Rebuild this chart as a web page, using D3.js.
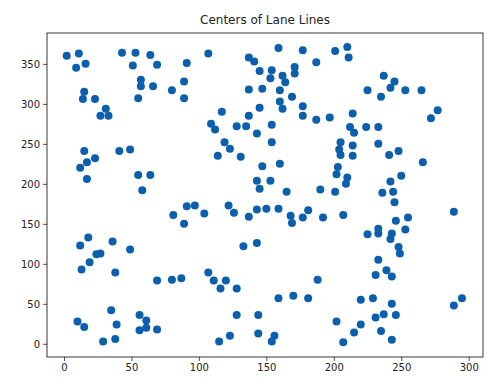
<!DOCTYPE html>
<html>
<head>
<meta charset="utf-8">
<script src="https://cdn.jsdelivr.net/npm/d3@7"></script>
<style>
  body { margin: 0; background: #fff; }
  svg text { font-family: "DejaVu Sans", sans-serif; fill: #222; }
</style>
</head>
<body>
<div id="chart"></div>
<script>
// lane line centers (x, y)
const xValues = [
  2, 11, 9, 16, 43, 53, 51, 64, 69, 91, 57, 57, 66, 55, 80, 89, 89, 15, 14, 23, 31, 27, 33, 15, 23, 17, 12, 17, 41, 49, 55, 64, 58,
  107, 137, 141, 159, 177, 187, 201, 145, 154, 153, 162, 164, 171, 171, 137, 147, 160, 160, 162, 169, 177, 177, 187, 197, 145, 117, 137, 109, 112, 128, 135, 154, 143, 154, 119, 123, 114, 131, 147, 160, 143, 153, 145, 165, 190, 201,
  210, 211, 237, 245, 242, 225, 235, 253, 265, 277, 272, 214, 212, 215, 224, 233, 205, 214, 204, 205, 214, 233, 241, 248, 266, 203, 202, 210, 209, 250, 242, 236, 244,
  91, 97, 81, 89, 18, 12, 36, 49, 24, 27, 19, 13, 38, 69, 80, 87, 35, 10, 15, 39, 29, 38, 56, 61, 61, 56, 69,
  104, 122, 126, 137, 143, 150, 159, 168, 169, 177, 181, 192, 133, 143, 107, 111, 120, 116, 128, 188, 159, 170, 181, 128, 144, 123, 115, 144, 156, 154,
  245, 207, 289, 246, 255, 253, 225, 233, 233, 243, 242, 248, 249, 233, 239, 231, 243, 220, 229, 243, 295, 289, 231, 237, 246, 202, 220, 215, 207, 235, 243
];
const yValues = [
  360, 363, 345, 350, 364, 364, 348, 361, 349, 351, 330, 322, 322, 307, 317, 328, 307, 315, 306, 306, 294, 285, 285, 241, 232, 227, 220, 206, 241, 243, 211, 211, 192,
  363, 358, 353, 370, 367, 352, 366, 341, 342, 332, 335, 327, 346, 338, 318, 319, 317, 303, 294, 309, 297, 285, 280, 283, 295, 290, 285, 275, 268, 272, 272, 274, 263, 252, 252, 244, 235, 234, 222, 225, 204, 204, 194, 190, 193, 190,
  371, 358, 335, 328, 320, 317, 309, 317, 317, 292, 282, 288, 271, 264, 271, 271, 252, 248, 243, 236, 235, 250, 236, 241, 227, 221, 212, 208, 200, 210, 203, 189, 190,
  172, 173, 161, 150, 133, 123, 128, 118, 112, 113, 102, 93, 89, 79, 80, 82, 42, 28, 21, 24, 3, 6, 36, 29, 20, 17, 18,
  163, 173, 164, 159, 168, 169, 169, 160, 151, 158, 167, 158, 122, 126, 89, 79, 79, 69, 69, 80, 57, 60, 57, 36, 36, 10, 3, 13, 10, 3,
  177, 161, 165, 154, 158, 143, 137, 144, 138, 138, 131, 121, 113, 105, 92, 86, 84, 55, 57, 50, 57, 48, 33, 37, 36, 28, 24, 14, 2, 16, 5
];
const xTicks = [0, 50, 100, 150, 200, 250, 300];
const yTicks = [0, 50, 100, 150, 200, 250, 300, 350];
const title = "Centers of Lane Lines";

const width = 487, height = 378;
const margin = { top: 33, right: 4, bottom: 21, left: 47 };
const innerW = width - margin.left - margin.right;
const innerH = height - margin.top - margin.bottom;

const svg = d3.select("#chart")
  .append("svg")
  .attr("width", width)
  .attr("height", height);

const g = svg.append("g")
  .attr("transform", `translate(${margin.left},${margin.top})`);

const x = d3.scaleLinear().domain([-12.6, 310.6]).range([0, innerW]);
const y = d3.scaleLinear().domain([-16.5, 388.6]).range([innerH, 0]);

const points = xValues.map((v, i) => ({ x: v, y: yValues[i] }));

g.selectAll(".dot")
  .data(points)
  .enter()
  .append("circle")
  .attr("class", "dot")
  .attr("cx", d => x(d.x))
  .attr("cy", d => y(d.y))
  .attr("r", 4)
  .style("fill", "#0b5fad");

const xAxis = d3.axisBottom(x).tickValues(xTicks).tickSize(4).tickPadding(3);
const yAxis = d3.axisLeft(y).tickValues(yTicks).tickSize(4).tickPadding(3);

g.append("g")
  .attr("transform", `translate(0,${innerH})`)
  .call(xAxis)
  .call(a => a.select(".domain").remove());

g.append("g")
  .call(yAxis)
  .call(a => a.select(".domain").remove());

g.selectAll(".tick line").attr("stroke", "#222").attr("stroke-width", 0.8);
g.selectAll(".tick text").style("font-size", "10px").style("fill", "#222");

g.append("rect")
  .attr("width", innerW)
  .attr("height", innerH)
  .attr("fill", "none")
  .attr("stroke", "#222")
  .attr("stroke-width", 0.9);

svg.append("text")
  .attr("x", margin.left + innerW / 2)
  .attr("y", 24)
  .attr("text-anchor", "middle")
  .style("font-size", "12px")
  .text(title);
</script>
</body>
</html>
